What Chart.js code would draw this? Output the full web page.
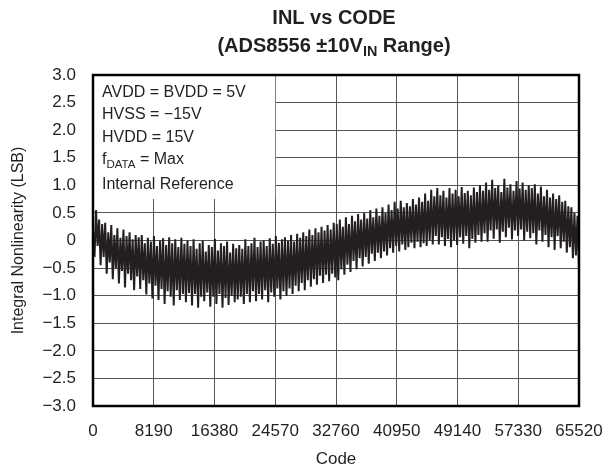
<!DOCTYPE html>
<html>
<head>
<meta charset="utf-8">
<script src="https://cdn.jsdelivr.net/npm/chart.js@4.4.1/dist/chart.umd.min.js"></script>
<style>
  html, body { margin: 0; padding: 0; background: #fff; }
  #wrap { width: 608px; height: 470px; }
</style>
</head>
<body>
<div id="wrap"><canvas id="inl-chart" width="608" height="470"></canvas></div>
<script>
// INL readings (LSB), left to right across the code range
const inl = [
    0.2, -0.3, 0.55, -0.1, 0.38, -0.45, 0.3, -0.3, 0.32, -0.6, 0.15, -0.4, 0.28, -0.7, 0.1, -0.5,
    0.22, -0.78, 0.05, -0.55, 0.2, -0.85, 0.08, -0.6, 0.15, -0.72, 0.02, -0.9, 0.1, -0.65, 0.06, -0.88,
    0.1, -0.72, -0.05, -0.98, 0.05, -0.78, -0.02, -1.05, 0.08, -0.82, -0.1, -1.08, 0.0, -0.88, 0.04, -1.15,
    -0.08, -0.92, 0.06, -1.02, -0.05, -1.18, 0.02, -0.9, -0.12, -1.08, 0.05, -0.97, -0.06, -1.12, 0.0, -0.95,
    -0.1, -1.18, 0.02, -0.97, -0.15, -1.22, -0.05, -1.02, 0.0, -1.1, -0.2, -0.94, -0.08, -1.2, -0.12, -1.02,
    0.03, -1.15, -0.18, -0.97, -0.05, -1.22, -0.1, -1.04, -0.02, -1.17, -0.22, -1.0, -0.06, -1.12, -0.14, -1.07,
    -0.08, -1.02, -0.15, -1.15, 0.02, -0.97, -0.1, -1.12, -0.05, -0.92, 0.05, -1.1, -0.12, -0.97, -0.02, -1.07,
    0.0, -0.9, -0.1, -1.12, 0.04, -0.94, -0.06, -1.02, 0.08, -0.87, -0.04, -1.07, 0.02, -0.92, 0.06, -1.0,
    0.0, -0.87, 0.1, -0.97, -0.02, -0.82, 0.12, -0.92, 0.05, -0.77, 0.15, -0.9, 0.08, -0.72, 0.2, -0.84,
    0.1, -0.7, 0.22, -0.8, 0.15, -0.64, 0.25, -0.77, 0.18, -0.62, 0.28, -0.74, 0.2, -0.6, 0.32, -0.67,
    0.3, -0.72, 0.38, -0.52, 0.25, -0.62, 0.42, -0.44, 0.3, -0.57, 0.45, -0.37, 0.35, -0.52, 0.48, -0.32,
    0.38, -0.47, 0.5, -0.3, 0.4, -0.42, 0.55, -0.24, 0.42, -0.37, 0.58, -0.22, 0.45, -0.32, 0.6, -0.2,
    0.5, -0.27, 0.65, -0.14, 0.55, -0.22, 0.7, -0.1, 0.58, -0.2, 0.72, -0.07, 0.6, -0.17, 0.68, -0.12,
    0.62, -0.04, 0.75, -0.14, 0.65, -0.02, 0.78, -0.12, 0.7, -0.05, 0.85, -0.1, 0.72, 0.0, 0.92, -0.07,
    0.8, 0.08, 0.95, -0.07, 0.82, 0.06, 0.9, -0.1, 0.78, 0.03, 0.95, -0.12, 0.85, 0.0, 0.92, -0.08,
    0.8, 0.06, 0.97, -0.06, 0.86, 0.08, 0.9, -0.14, 0.82, 0.03, 0.96, -0.04, 0.88, 0.1, 1.0, -0.02,
    0.9, 0.13, 1.05, -0.02, 0.92, 0.18, 1.1, 0.03, 0.95, 0.2, 1.0, -0.04, 0.88, 0.16, 1.12, 0.06,
    0.96, 0.23, 1.02, 0.02, 0.9, 0.18, 1.08, 0.08, 0.94, 0.2, 1.05, 0.0, 0.92, 0.16, 1.0, 0.04,
    0.95, 0.13, 1.02, -0.07, 0.85, 0.18, 0.98, -0.02, 0.8, 0.1, 0.92, -0.12, 0.78, 0.06, 0.85, -0.17,
    0.75, 0.08, 0.82, -0.14, 0.7, -0.02, 0.72, -0.22, 0.62, -0.12, 0.6, -0.32, 0.5, -0.27, 0.45, -0.5
];

const xTicks = [0, 8190, 16380, 24570, 32760, 40950, 49140, 57330, 65520];
const xTickLabels = ['0', '8190', '16380', '24570', '32760', '40950', '49140', '57330', '65520'];
const yTicks = [3, 2.5, 2, 1.5, 1, 0.5, 0, -0.5, -1, -1.5, -2, -2.5, -3];
const yTickLabels = ['3.0', '2.5', '2.0', '1.5', '1.0', '0.5', '0', '\u22120.5', '\u22121.0', '\u22121.5', '\u22122.0', '\u22122.5', '\u22123.0'];

const conditions = [
    [['AVDD = BVDD = 5V']],
    [['HVSS = \u221215V']],
    [['HVDD = 15V']],
    [['f'], ['DATA', 'sub'], [' = Max']],
    [['Internal Reference']]
];

const FONT = "'Liberation Sans', Arial, sans-serif";
const INK = '#231f20';

// codes are sampled evenly over the full 16-bit range
const points = inl.map((v, i) => ({ x: Math.round(i * 65520 / (inl.length - 1)), y: v }));

function drawRuns(ctx, runs, x, y, size, bold, align) {
    const w = runs.reduce((s, r) => {
        ctx.font = (bold ? 'bold ' : '') + (r[1] === 'sub' ? size * 0.72 : size) + 'px ' + FONT;
        return s + ctx.measureText(r[0]).width;
    }, 0);
    let cx = align === 'center' ? x - w / 2 : x;
    runs.forEach(r => {
        const sub = r[1] === 'sub';
        ctx.font = (bold ? 'bold ' : '') + (sub ? size * 0.72 : size) + 'px ' + FONT;
        ctx.fillText(r[0], cx, sub ? y + size * 0.28 : y);
        cx += ctx.measureText(r[0]).width;
    });
}

const decorations = {
    id: 'decorations',
    beforeDatasetsDraw(chart) {
        const { ctx, scales: { x, y } } = chart;
        // white panel for the test conditions
        ctx.save();
        ctx.fillStyle = '#fff';
        ctx.fillRect(x.left, y.top, x.getPixelForValue(24570) - x.left, y.getPixelForValue(0.75) - y.top);
        ctx.fillStyle = INK;
        ctx.textBaseline = 'middle';
        ctx.textAlign = 'left';
        const rows = [93, 115, 138, 160, 185];
        conditions.forEach((runs, i) => drawRuns(ctx, runs, x.left + 9, rows[i], 16, false, 'left'));
        ctx.restore();
    },
    afterDraw(chart) {
        const { ctx, chartArea: a } = chart;
        ctx.save();
        ctx.strokeStyle = '#000';
        ctx.lineWidth = 2.5;
        ctx.strokeRect(a.left, a.top, a.right - a.left, a.bottom - a.top);
        ctx.fillStyle = INK;
        ctx.textBaseline = 'middle';
        ctx.textAlign = 'left';
        const cx = (a.left + a.right) / 2 - 2;
        drawRuns(ctx, [['INL vs CODE']], cx, 18, 20, true, 'center');
        drawRuns(ctx, [['(ADS8556 \u00b110V'], ['IN', 'sub'], [' Range)']], cx, 46, 20, true, 'center');
        ctx.restore();
    }
};

new Chart(document.getElementById('inl-chart').getContext('2d'), {
    type: 'line',
    data: {
        datasets: [{
            data: points,
            borderColor: INK,
            borderWidth: 2,
            pointRadius: 0,
            tension: 0,
            fill: false
        }]
    },
    options: {
        responsive: false,
        animation: false,
        events: [],
        layout: { padding: { left: 0, right: 29, top: 75, bottom: 0 } },
        plugins: { legend: { display: false }, tooltip: { enabled: false }, title: { display: false } },
        scales: {
            x: {
                type: 'linear',
                min: 0,
                max: 65520,
                afterBuildTicks: s => { s.ticks = xTicks.map(v => ({ value: v })); },
                afterFit: s => { s.height = 64; s.paddingLeft = 0; s.paddingRight = 0; },
                grid: { color: '#555', lineWidth: 1, drawTicks: false },
                border: { display: false },
                ticks: {
                    padding: 15,
                    color: INK,
                    font: { family: FONT, size: 17 },
                    maxRotation: 0,
                    autoSkip: false,
                    callback: v => xTickLabels[xTicks.indexOf(v)]
                },
                title: { display: true, text: 'Code', color: INK, font: { family: FONT, size: 17 }, padding: { top: 0, bottom: 0 } }
            },
            y: {
                min: -3,
                max: 3,
                afterBuildTicks: s => { s.ticks = yTicks.map(v => ({ value: v })); },
                afterFit: s => { s.width = 93; s.paddingTop = 0; s.paddingBottom = 0; },
                grid: { color: '#555', lineWidth: 1, drawTicks: false },
                border: { display: false },
                ticks: {
                    padding: 17,
                    color: INK,
                    font: { family: FONT, size: 17 },
                    autoSkip: false,
                    callback: v => yTickLabels[yTicks.indexOf(v)]
                },
                title: { display: true, text: 'Integral Nonlinearity (LSB)', color: INK, font: { family: FONT, size: 16 }, padding: { top: 9, bottom: 0 } }
            }
        }
    },
    plugins: [decorations]
});
</script>
</body>
</html>
